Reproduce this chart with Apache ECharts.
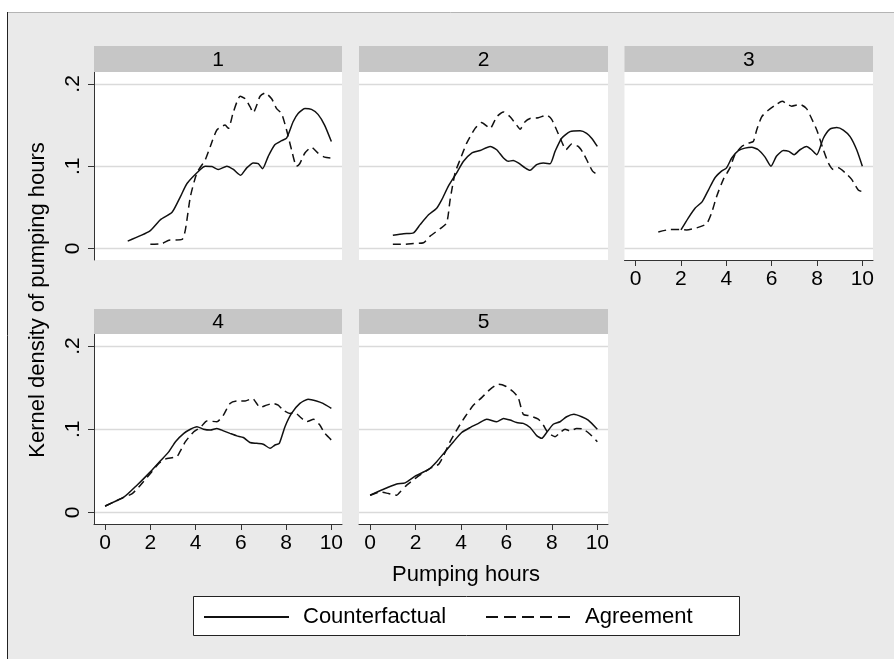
<!DOCTYPE html>
<html>
<head>
<meta charset="utf-8">
<script src="https://cdn.jsdelivr.net/npm/echarts@6/dist/echarts.min.js"></script>
<style>
  html, body { margin: 0; padding: 0; background: #fff; }
  #chart { width: 894px; height: 659px; }
</style>
</head>
<body>
<div id="chart"></div>
<script>
// Panel labels, axis ticks and text
const panelTitles = ['1', '2', '3', '4', '5'];
const xTicks = [0, 2, 4, 6, 8, 10];
const yTicks = [0, 0.1, 0.2];
const yTickLabels = ['0', '.1', '.2'];
const seriesNames = ['Counterfactual', 'Agreement'];
const xTitle = 'Pumping hours';
const yTitle = 'Kernel density of pumping hours';

// Kernel density estimates, [hours, density], one array per panel and group
const cf1 = [[1.0,0.009],[1.97,0.021],[2.45,0.035],[2.96,0.044],[3.33,0.063],[3.62,0.079],[4.21,0.096],[4.43,0.100],[4.72,0.0996],[5.0,0.096],[5.38,0.100],[5.67,0.096],[5.99,0.089],[6.26,0.098],[6.55,0.104],[6.77,0.103],[6.96,0.097],[7.21,0.112],[7.5,0.126],[7.8,0.131],[8.02,0.134],[8.31,0.154],[8.53,0.164],[8.83,0.170],[9.12,0.169],[9.41,0.163],[9.7,0.150],[10.0,0.130]];
const ag1 = [[2.0,0.005],[2.52,0.006],[2.82,0.010],[3.4,0.011],[3.55,0.023],[3.77,0.063],[4.06,0.092],[4.43,0.108],[4.65,0.124],[4.94,0.144],[5.3,0.150],[5.45,0.146],[5.67,0.166],[5.97,0.185],[6.19,0.182],[6.41,0.172],[6.55,0.165],[6.7,0.174],[6.85,0.185],[7.07,0.189],[7.36,0.182],[7.58,0.170],[7.8,0.164],[8.02,0.144],[8.24,0.120],[8.46,0.100],[8.6,0.103],[8.83,0.116],[9.12,0.123],[9.41,0.116],[9.7,0.111],[10.0,0.110]];

const cf2 = [[1.0,0.016],[1.47,0.018],[1.91,0.019],[2.2,0.029],[2.57,0.041],[2.93,0.049],[3.15,0.059],[3.45,0.076],[3.81,0.092],[4.11,0.106],[4.47,0.116],[4.84,0.119],[5.28,0.124],[5.57,0.120],[5.87,0.110],[6.09,0.106],[6.3,0.107],[6.52,0.104],[6.82,0.098],[7.04,0.095],[7.33,0.102],[7.62,0.104],[7.92,0.103],[8.14,0.118],[8.43,0.134],[8.8,0.142],[9.24,0.143],[9.53,0.140],[9.75,0.134],[10.0,0.124]];
const ag2 = [[1.0,0.005],[1.47,0.005],[1.91,0.006],[2.35,0.007],[2.64,0.015],[3.08,0.024],[3.37,0.031],[3.52,0.059],[3.74,0.092],[3.96,0.108],[4.25,0.128],[4.62,0.146],[4.9,0.153],[5.28,0.146],[5.57,0.160],[5.87,0.166],[6.16,0.160],[6.45,0.150],[6.6,0.145],[6.82,0.154],[7.04,0.158],[7.4,0.159],[7.77,0.162],[7.99,0.157],[8.21,0.144],[8.43,0.130],[8.62,0.120],[8.87,0.127],[9.16,0.124],[9.38,0.116],[9.6,0.104],[9.79,0.094],[10.0,0.090]];

const cf3 = [[2.0,0.0225],[2.32,0.037],[2.62,0.049],[2.94,0.057],[3.21,0.071],[3.5,0.086],[3.79,0.094],[4.01,0.098],[4.24,0.110],[4.53,0.119],[4.82,0.122],[5.12,0.123],[5.41,0.120],[5.71,0.111],[5.97,0.100],[6.21,0.112],[6.51,0.119],[6.76,0.118],[6.99,0.114],[7.25,0.120],[7.54,0.124],[7.76,0.120],[7.99,0.114],[8.28,0.134],[8.57,0.145],[8.87,0.147],[9.16,0.144],[9.46,0.136],[9.75,0.120],[10.0,0.100]];
const ag3 = [[1.0,0.020],[1.51,0.023],[1.96,0.023],[2.25,0.0225],[2.69,0.025],[3.13,0.030],[3.35,0.043],[3.57,0.063],[3.87,0.084],[4.16,0.098],[4.38,0.114],[4.68,0.124],[4.97,0.128],[5.19,0.130],[5.34,0.144],[5.56,0.160],[5.85,0.168],[6.15,0.174],[6.47,0.179],[6.66,0.176],[6.88,0.173],[7.25,0.175],[7.54,0.170],[7.76,0.158],[7.99,0.144],[8.28,0.120],[8.5,0.104],[8.72,0.096],[8.94,0.098],[9.24,0.092],[9.53,0.084],[9.82,0.071],[10.0,0.069]];

const cf4 = [[0.0,0.0077],[0.84,0.0185],[1.42,0.033],[2.01,0.049],[2.45,0.062],[2.82,0.073],[3.11,0.085],[3.48,0.095],[3.77,0.100],[4.06,0.103],[4.35,0.100],[4.65,0.099],[4.94,0.101],[5.23,0.098],[5.52,0.095],[5.82,0.092],[6.11,0.090],[6.4,0.084],[6.7,0.083],[6.99,0.082],[7.29,0.077],[7.51,0.081],[7.7,0.083],[7.95,0.103],[8.24,0.119],[8.61,0.131],[8.97,0.136],[9.34,0.134],[9.63,0.131],[10.0,0.125]];
const ag4 = [[0.0,0.0073],[0.54,0.0145],[0.77,0.0173],[1.2,0.0226],[1.57,0.033],[2.01,0.047],[2.38,0.059],[2.65,0.064],[3.17,0.067],[3.31,0.073],[3.55,0.085],[3.92,0.097],[4.21,0.102],[4.5,0.110],[4.94,0.109],[5.23,0.117],[5.52,0.131],[5.82,0.134],[6.19,0.134],[6.52,0.137],[6.7,0.131],[6.85,0.126],[7.14,0.129],[7.43,0.131],[7.65,0.129],[7.87,0.123],[8.17,0.119],[8.39,0.120],[8.61,0.115],[8.9,0.109],[9.22,0.112],[9.49,0.105],[9.71,0.095],[10.0,0.087]];

const cf5 = [[0.0,0.0206],[0.59,0.0278],[1.17,0.034],[1.54,0.0355],[1.98,0.0435],[2.57,0.0516],[2.93,0.061],[3.3,0.073],[3.67,0.085],[4.03,0.096],[4.4,0.102],[4.77,0.107],[5.13,0.112],[5.57,0.109],[5.87,0.113],[6.16,0.111],[6.45,0.108],[6.74,0.107],[7.04,0.102],[7.33,0.0923],[7.55,0.089],[7.77,0.096],[8.06,0.106],[8.36,0.109],[8.65,0.115],[8.97,0.118],[9.31,0.115],[9.6,0.111],[10.0,0.100]];
const ag5 = [[0.0,0.0206],[0.44,0.0246],[0.81,0.0226],[1.17,0.0206],[1.32,0.0246],[1.61,0.0327],[1.98,0.0407],[2.64,0.0528],[3.01,0.0577],[3.23,0.068],[3.52,0.085],[3.81,0.099],[4.18,0.115],[4.55,0.129],[4.91,0.138],[5.28,0.148],[5.65,0.154],[5.94,0.152],[6.3,0.145],[6.52,0.138],[6.74,0.118],[7.04,0.116],[7.4,0.112],[7.62,0.105],[7.84,0.0954],[8.14,0.091],[8.36,0.096],[8.58,0.100],[8.8,0.098],[9.09,0.101],[9.38,0.100],[9.68,0.094],[10.0,0.085]];

const counterfactual = [cf1, cf2, cf3, cf4, cf5];
const agreement = [ag1, ag2, ag3, ag4, ag5];

// ---- layout ----
const FONT = '"Liberation Sans", Arial, Helvetica, sans-serif';
const BG = '#eaeaea';
const STRIP = '#c6c6c6';
const AXIS = '#333333';
const GRIDLINE = '#dadada';
const INK = '#111111';

const cols = [
  { left: 94, width: 248 },
  { left: 359, width: 249 },
  { left: 624.5, width: 248.5 }
];
const rows = [
  { top: 72, height: 188, stripTop: 46, stripH: 26 },
  { top: 334, height: 190, stripTop: 309, stripH: 25 }
];
const cells = [[0, 0], [0, 1], [0, 2], [1, 0], [1, 1]];
const hasYAxis = [true, false, false, true, false];
const hasXAxis = [false, false, true, true, true];

const fmtY = v => {
  const i = yTicks.findIndex(t => Math.abs(t - v) < 1e-9);
  return i >= 0 ? yTickLabels[i] : '';
};

const grid = [], xAxis = [], yAxis = [], series = [], graphic = [];

// white margin and border of the outer frame
graphic.push(
  { type: 'rect', z: -10, shape: { x: 0, y: 0, width: 894, height: 12 }, style: { fill: '#ffffff' } },
  { type: 'rect', z: -10, shape: { x: 0, y: 0, width: 7, height: 659 }, style: { fill: '#ffffff' } },
  { type: 'line', z: -9, shape: { x1: 7, y1: 12.5, x2: 894, y2: 12.5 }, style: { stroke: '#b4b4b4', lineWidth: 1 } },
  { type: 'line', z: -9, shape: { x1: 7.5, y1: 12, x2: 7.5, y2: 659 }, style: { stroke: '#222222', lineWidth: 1 } }
);

cells.forEach(([r, c], i) => {
  const row = rows[r], col = cols[c];
  grid.push({
    left: col.left, top: row.top, width: col.width, height: row.height,
    show: true, backgroundColor: '#ffffff', borderWidth: 0
  });
  xAxis.push({
    type: 'value', gridIndex: i, min: -0.49, max: 10.47,
    axisLine: { show: hasXAxis[i], onZero: false, lineStyle: { color: AXIS, width: 1 } },
    axisTick: { show: hasXAxis[i], customValues: xTicks, length: 6, lineStyle: { color: AXIS, width: 1 } },
    axisLabel: { show: hasXAxis[i], customValues: xTicks, margin: 9, fontSize: 21, fontFamily: FONT, color: '#000' },
    splitLine: { show: false }
  });
  yAxis.push({
    type: 'value', gridIndex: i, min: -0.014, max: 0.2145,
    axisLine: { show: hasYAxis[i], onZero: false, lineStyle: { color: AXIS, width: 1 } },
    axisTick: { show: hasYAxis[i], customValues: yTicks, length: 6, lineStyle: { color: AXIS, width: 1 } },
    axisLabel: { show: hasYAxis[i], customValues: yTicks, rotate: 90, margin: 10, fontSize: 21, fontFamily: FONT, color: '#000', formatter: fmtY },
    splitLine: { show: true, lineStyle: { color: GRIDLINE, width: 1.3 } }
  });
  series.push({
    name: seriesNames[0], type: 'line', xAxisIndex: i, yAxisIndex: i,
    data: counterfactual[i], symbol: 'none', showSymbol: false, smooth: 0.2, silent: true,
    itemStyle: { color: INK },
    lineStyle: { color: INK, width: 1.5, type: 'solid' }, z: 3
  });
  series.push({
    name: seriesNames[1], type: 'line', xAxisIndex: i, yAxisIndex: i,
    data: agreement[i], symbol: 'none', showSymbol: false, smooth: 0.2, silent: true,
    itemStyle: { color: INK },
    lineStyle: { color: INK, width: 1.5, type: [8, 5] }, z: 3
  });
  // panel strip with its label
  graphic.push({
    type: 'rect', z: 1,
    shape: { x: col.left, y: row.stripTop, width: col.width, height: row.stripH },
    style: { fill: STRIP }
  });
  graphic.push({
    type: 'text', z: 2,
    x: col.left + col.width / 2, y: row.stripTop + row.stripH / 2 + 1,
    style: { text: panelTitles[i], fontSize: 21, fontFamily: FONT, fill: '#000', align: 'center', verticalAlign: 'middle' }
  });
});

// axis titles
graphic.push({
  type: 'text', z: 2, x: 38, y: 300, rotation: Math.PI / 2,
  style: { text: yTitle, fontSize: 22, fontFamily: FONT, fill: '#000', align: 'center', verticalAlign: 'middle' }
});
graphic.push({
  type: 'text', z: 2, x: 466, y: 575,
  style: { text: xTitle, fontSize: 22, fontFamily: FONT, fill: '#000', align: 'center', verticalAlign: 'middle' }
});
// legend frame
graphic.push({
  type: 'rect', z: 1,
  shape: { x: 193.5, y: 596.5, width: 546, height: 39 },
  style: { fill: '#ffffff', stroke: '#222222', lineWidth: 1 }
});

const legendBase = {
  top: 606, padding: 0, itemWidth: 85, itemHeight: 20,
  itemStyle: { opacity: 0 },
  textStyle: { fontSize: 22, fontFamily: FONT, color: '#000', padding: [0, 0, 0, 9], lineHeight: 20 },
  selectedMode: false
};

const chart = echarts.init(document.getElementById('chart'), null, { renderer: 'canvas' });
chart.setOption({
  backgroundColor: BG,
  animation: false,
  grid, xAxis, yAxis, series, graphic,
  legend: [
    Object.assign({}, legendBase, { left: 203, data: [seriesNames[0]] }),
    Object.assign({}, legendBase, { left: 485, data: [seriesNames[1]], lineStyle: { type: [12, 6] } })
  ]
});
</script>
</body>
</html>
